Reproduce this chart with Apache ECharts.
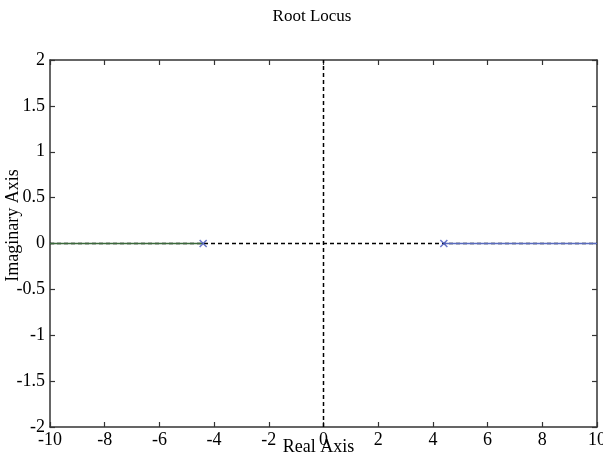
<!DOCTYPE html>
<html>
<head>
<meta charset="utf-8">
<script src="https://cdn.jsdelivr.net/npm/echarts@6/dist/echarts.min.js"></script>
<style>html,body{margin:0;padding:0;background:#fff}#c{width:603px;height:456px}</style>
</head>
<body>
<div id="c"></div>
<script>
const xTicks = [-10, -8, -6, -4, -2, 0, 2, 4, 6, 8, 10];
const yTicks = [-2, -1.5, -1, -0.5, 0, 0.5, 1, 1.5, 2];
const poles = [[-4.4, 0], [4.4, 0]];
const branchLeft = [[-10, 0], [-4.4, 0]];
const branchRight = [[4.4, 0], [10, 0]];
const realAxisLine = [[-10, 0], [10, 0]];
const imagAxisLine = [[0, -2], [0, 2]];

const font = 'Liberation Serif';
const axisCommon = {
  axisLine: { show: true, onZero: false, lineStyle: { color: '#333', width: 1.5 } },
  axisTick: { show: true, inside: true, length: 5, lineStyle: { color: '#333', width: 1.2 } },
  splitLine: { show: false }
};
const chart = echarts.init(document.getElementById('c'));
chart.setOption({
  animation: false,
  backgroundColor: '#fff',
  title: { text: 'Root Locus', left: 307, top: 3, textAlign: 'center',
    textStyle: { fontFamily: font, fontSize: 17, fontWeight: 'normal', color: '#000' } },
  grid: { left: 50, right: 6, top: 60, bottom: 29, containLabel: false, outerBoundsMode: 'none' },
  xAxis: [
    Object.assign({ type: 'value', position: 'bottom', min: -10, max: 10, interval: 2,
      name: 'Real Axis', nameLocation: 'middle', nameGap: 11, nameMoveOverlap: false,
      nameTextStyle: { fontFamily: font, fontSize: 18, color: '#000', padding: [0, 10, 0, 0] },
      axisLabel: { fontFamily: font, fontSize: 18, color: '#000', margin: 4 } }, axisCommon),
    Object.assign({ type: 'value', position: 'top', min: -10, max: 10, interval: 2,
      axisLabel: { show: false } }, axisCommon)
  ],
  yAxis: [
    Object.assign({ type: 'value', position: 'left', min: -2, max: 2, interval: 0.5,
      name: 'Imaginary Axis', nameLocation: 'middle', nameGap: 28, nameMoveOverlap: false,
      nameTextStyle: { fontFamily: font, fontSize: 18, color: '#000', padding: [0, 0, 0, 36] },
      axisLabel: { fontFamily: font, fontSize: 18, color: '#000', margin: 5 } }, axisCommon),
    Object.assign({ type: 'value', position: 'right', min: -2, max: 2, interval: 0.5,
      axisLabel: { show: false } }, axisCommon)
  ],
  series: [
    { type: 'line', data: realAxisLine, symbol: 'none', z: 1,
      lineStyle: { color: '#000', width: 1.5, type: [4, 3] } },
    { type: 'line', data: imagAxisLine, symbol: 'none', z: 1,
      lineStyle: { color: '#000', width: 1.5, type: [4, 3] } },
    { type: 'line', data: branchLeft, symbol: 'none', z: 2,
      lineStyle: { color: '#3c6a3c', width: 1.5 } },
    { type: 'line', data: branchRight, symbol: 'none', z: 2,
      lineStyle: { color: '#5a6cbf', width: 1.5 } },
    { type: 'scatter', data: poles, z: 3,
      symbol: 'path://M0,0L10,10M10,0L0,10', symbolSize: 7,
      itemStyle: { color: 'none', borderColor: '#4455bb', borderWidth: 1.5 } }
  ]
});
</script>
</body>
</html>
